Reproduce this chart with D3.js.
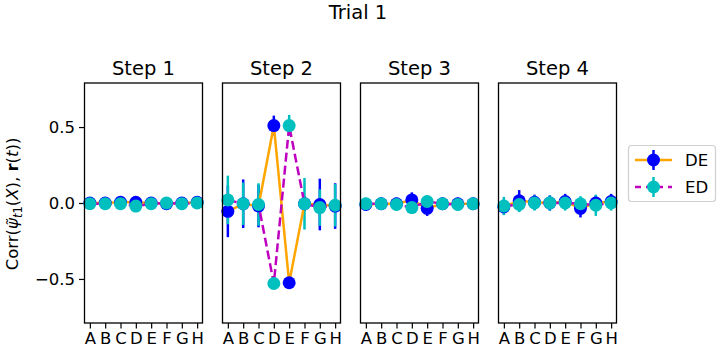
<!DOCTYPE html>
<html>
<head>
<meta charset="utf-8">
<script src="https://cdn.jsdelivr.net/npm/d3@7"></script>
<style>
  body { margin: 0; background: #fff; }
  text { font-family: "DejaVu Sans", sans-serif; fill: #000; }
</style>
</head>
<body>
<svg id="chart"></svg>
<script>
var width = 720, height = 352;

// categories and panels
var categories = ["A", "B", "C", "D", "E", "F", "G", "H"];
var steps = ["Step 1", "Step 2", "Step 3", "Step 4"];
var yTicks = [-0.5, 0.0, 0.5];

// DE series (mean, error) per step
var deMean = [
  [0.0, 0.0, 0.005, 0.005, 0.0, -0.005, 0.0, 0.005],
  [-0.055, -0.005, -0.02, 0.51, -0.525, -0.005, -0.01, -0.02],
  [-0.01, -0.005, -0.005, 0.02, -0.035, -0.005, -0.005, -0.005],
  [-0.025, 0.015, 0.005, 0.0, 0.01, -0.035, 0.0, 0.01]
];
var deErr = [
  [0.01, 0.01, 0.015, 0.015, 0.01, 0.015, 0.01, 0.015],
  [0.17, 0.16, 0.14, 0.065, 0.04, 0.05, 0.17, 0.15],
  [0.04, 0.04, 0.04, 0.05, 0.05, 0.04, 0.04, 0.04],
  [0.05, 0.07, 0.05, 0.05, 0.05, 0.06, 0.05, 0.05]
];

// ED series (mean, error) per step
var edMean = [
  [-0.005, -0.005, -0.005, -0.02, -0.005, 0.0, -0.005, 0.0],
  [0.02, -0.005, -0.01, -0.53, 0.51, -0.005, -0.03, -0.015],
  [-0.005, -0.005, -0.01, -0.03, 0.01, -0.005, -0.01, -0.005],
  [-0.02, -0.01, 0.0, 0.0, 0.0, -0.005, -0.015, 0.0]
];
var edErr = [
  [0.01, 0.01, 0.01, 0.01, 0.01, 0.01, 0.01, 0.01],
  [0.16, 0.14, 0.14, 0.03, 0.07, 0.17, 0.12, 0.14],
  [0.04, 0.04, 0.04, 0.04, 0.04, 0.04, 0.04, 0.04],
  [0.06, 0.05, 0.05, 0.05, 0.05, 0.05, 0.07, 0.05]
];

var series = [
  { name: "DE", mean: deMean, err: deErr, line: "orange", marker: "#0000ff", dash: null },
  { name: "ED", mean: edMean, err: edErr, line: "#bf00bf", marker: "#00bfbf", dash: "9,4" }
];

var panelLeft = 84.5, panelStep = 138, panelW = 118;
var plotTop = 83, plotBottom = 323;
var lw = 2.5, r = 6.5;

var svg = d3.select("#chart")
  .attr("width", width)
  .attr("height", height);

// figure title
svg.append("text")
  .attr("x", 358).attr("y", 19)
  .attr("text-anchor", "middle")
  .style("font-size", "19.5px")
  .text("Trial 1");

var y = d3.scaleLinear().domain([-0.79, 0.79]).range([plotBottom, plotTop]);

steps.forEach(function (step, s) {
  var x0 = panelLeft + s * panelStep;
  var x = d3.scaleLinear().domain([-0.35, 7.35]).range([x0, x0 + panelW]);
  var g = svg.append("g");

  // subplot title
  g.append("text")
    .attr("x", x0 + panelW / 2).attr("y", 75)
    .attr("text-anchor", "middle")
    .style("font-size", "19.5px")
    .text(step);

  // x axis
  var xAxis = d3.axisBottom(x)
    .tickValues(d3.range(categories.length))
    .tickFormat(function (i) { return categories[i]; })
    .tickSize(5.5).tickPadding(4);
  var gx = g.append("g").attr("transform", "translate(0," + plotBottom + ")").call(xAxis);
  gx.select(".domain").remove();
  gx.selectAll("line").attr("stroke", "#000").attr("stroke-width", 1.2);
  gx.selectAll("text").style("font-size", "16.5px").style("font-family", "DejaVu Sans");

  // y axis on first panel only
  if (s === 0) {
    var yAxis = d3.axisLeft(y)
      .tickValues(yTicks)
      .tickFormat(function (d) { return d3.format(".1f")(d).replace("-", "\u2212"); })
      .tickSize(5.5).tickPadding(4);
    var gy = g.append("g").attr("transform", "translate(" + x0 + ",0)").call(yAxis);
    gy.select(".domain").remove();
    gy.selectAll("line").attr("stroke", "#000").attr("stroke-width", 1.2);
    gy.selectAll("text").style("font-size", "16.5px").style("font-family", "DejaVu Sans");
  }

  // error bars first (below data lines)
  series.forEach(function (se) {
    g.selectAll(null)
      .data(categories)
      .enter()
      .append("line")
      .attr("x1", function (d, i) { return x(i); })
      .attr("x2", function (d, i) { return x(i); })
      .attr("y1", function (d, i) { return y(se.mean[s][i] - se.err[s][i]); })
      .attr("y2", function (d, i) { return y(se.mean[s][i] + se.err[s][i]); })
      .attr("stroke", se.marker)
      .attr("stroke-width", lw);
  });

  // data lines and markers
  series.forEach(function (se) {
    var line = d3.line()
      .x(function (d, i) { return x(i); })
      .y(function (d) { return y(d); });
    g.append("path")
      .attr("d", line(se.mean[s]))
      .attr("fill", "none")
      .attr("stroke", se.line)
      .attr("stroke-width", lw)
      .attr("stroke-dasharray", se.dash);
    g.selectAll(null)
      .data(se.mean[s])
      .enter()
      .append("circle")
      .attr("cx", function (d, i) { return x(i); })
      .attr("cy", function (d) { return y(d); })
      .attr("r", r)
      .attr("fill", se.marker);
  });

  // frame
  g.append("rect")
    .attr("x", x0).attr("y", plotTop)
    .attr("width", panelW).attr("height", plotBottom - plotTop)
    .attr("fill", "none")
    .attr("stroke", "#000")
    .attr("stroke-width", 1.3);
});

// y label
var ylab = svg.append("text")
  .attr("transform", "translate(18,204) rotate(-90)")
  .attr("text-anchor", "middle")
  .style("font-size", "16.5px");
ylab.append("tspan").text("Corr(");
ylab.append("tspan").style("font-style", "italic").text("\u03c8\u0303");
ylab.append("tspan").attr("dy", 4).style("font-size", "11.5px").style("font-style", "italic").text("t");
ylab.append("tspan").style("font-size", "11.5px").text("1");
ylab.append("tspan").attr("dy", -4).text("(");
ylab.append("tspan").style("font-style", "italic").text("X");
ylab.append("tspan").text("), ");
ylab.append("tspan").style("font-weight", "bold").text("r");
ylab.append("tspan").text("(");
ylab.append("tspan").style("font-style", "italic").text("t");
ylab.append("tspan").text("))");

// legend
var legend = svg.append("g");
legend.append("rect")
  .attr("x", 628.5).attr("y", 145.5)
  .attr("width", 87).attr("height", 56)
  .attr("rx", 3)
  .attr("fill", "#fff")
  .attr("stroke", "#d0d0d0")
  .attr("stroke-width", 1.2);

series.forEach(function (se, k) {
  var ly = 160 + k * 27;
  legend.append("line")
    .attr("x1", 635).attr("x2", 672)
    .attr("y1", ly).attr("y2", ly)
    .attr("stroke", se.line)
    .attr("stroke-width", lw)
    .attr("stroke-dasharray", se.dash ? "6,5" : null);
  legend.append("line")
    .attr("x1", 653.5).attr("x2", 653.5)
    .attr("y1", ly - 10).attr("y2", ly + 10)
    .attr("stroke", se.marker)
    .attr("stroke-width", lw);
  legend.append("circle")
    .attr("cx", 653.5).attr("cy", ly)
    .attr("r", r)
    .attr("fill", se.marker);
  legend.append("text")
    .attr("x", 685).attr("y", ly + 6)
    .style("font-size", "16.5px")
    .text(se.name);
});
</script>
</body>
</html>
